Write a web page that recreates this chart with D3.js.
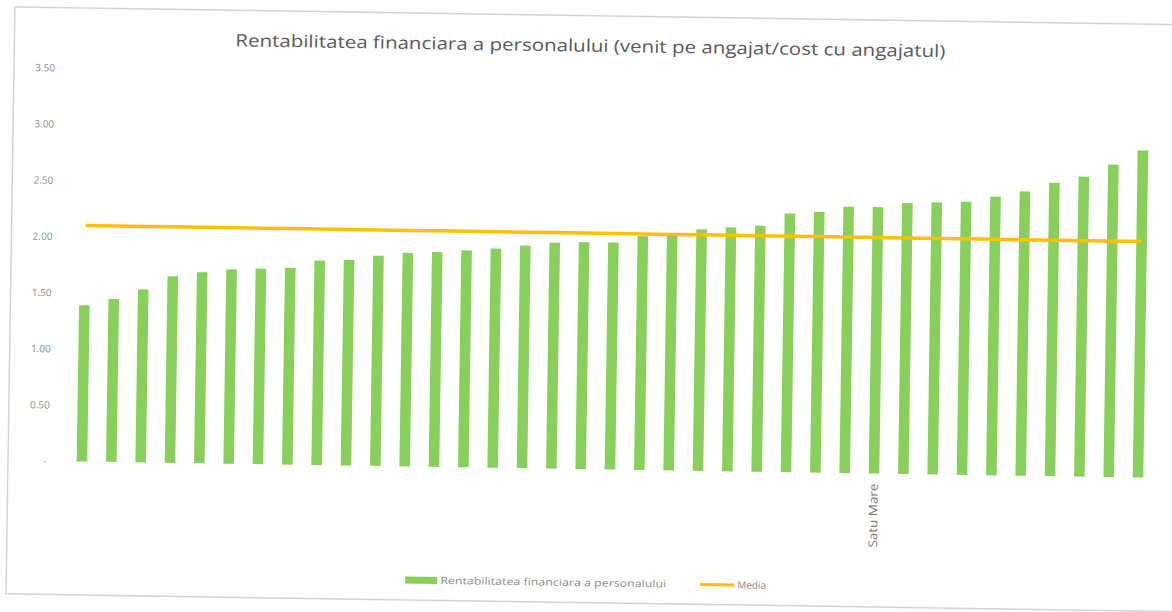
<!DOCTYPE html>
<html>

<head>
    <meta charset="utf-8">
    <title>Rentabilitatea financiara a personalului</title>
    <script src="https://d3js.org/d3.v7.min.js" charset="utf-8"></script>
    <style>
        body { margin: 0; background: #fff; }
        text { font-family: "Open Sans", sans-serif; }
    </style>
</head>

<body>

    <div class="box"></div>

    <script type="text/javascript">
        var title = "Rentabilitatea financiara a personalului (venit pe angajat/cost cu angajatul)";
        var seriesNames = ["Rentabilitatea financiara a personalului", "Media"];
        // only one county is labelled in the picture
        var categories = ["", "", "", "", "", "", "", "", "", "",
            "", "", "", "", "", "", "", "", "", "",
            "", "", "", "", "", "", "", "Satu Mare", "", "",
            "", "", "", "", "", "", ""];
        var values = [1.39, 1.45, 1.54, 1.66, 1.70, 1.73, 1.74, 1.75, 1.82, 1.83,
            1.87, 1.90, 1.91, 1.93, 1.95, 1.98, 2.01, 2.02, 2.02, 2.08,
            2.11, 2.15, 2.17, 2.19, 2.30, 2.32, 2.37, 2.37, 2.41, 2.42,
            2.43, 2.48, 2.53, 2.61, 2.67, 2.78, 2.91];
        var media = 2.10;
        var yTicks = [0, 0.5, 1, 1.5, 2, 2.5, 3, 3.5];
        var yTickLabels = ["-", "0.50", "1.00", "1.50", "2.00", "2.50", "3.00", "3.50"];

        var width = 1172;
        var height = 612;
        var barColor = "#88cf5c";
        var lineColor = "#ffc000";
        var textColor = "#8a8a8a";

        var svg = d3.select("div.box").append("svg")
            .attr("width", width)
            .attr("height", height);
        svg.append("rect")
            .attr("width", width)
            .attr("height", height)
            .attr("fill", "#fff");

        // the scanned page sits a little crooked, so the whole chart is turned
        var chart = svg.append("g")
            .attr("transform", "rotate(0.87, 82, 461.5)");

        chart.append("rect")
            .attr("x", 8)
            .attr("y", 8)
            .attr("width", 1220)
            .attr("height", 587)
            .attr("fill", "none")
            .attr("stroke", "#d4d4d4")
            .attr("stroke-width", 1.5);

        var x = d3.scaleBand()
            .domain(d3.range(values.length))
            .range([67.3, 1152.8])
            .paddingInner(0.64)
            .paddingOuter(0.32);
        var y = d3.scaleLinear()
            .domain([0, 3.5])
            .range([461.5, 68.1]);

        chart.append("text")
            .attr("x", 584)
            .attr("y", 44)
            .attr("text-anchor", "middle")
            .attr("font-size", 17)
            .attr("fill", "#595959")
            .attr("textLength", 710)
            .attr("lengthAdjust", "spacingAndGlyphs")
            .text(title);

        var yAxis = chart.append("g")
            .attr("transform", "translate(49,0)")
            .call(d3.axisLeft(y)
                .tickValues(yTicks)
                .tickFormat(function(d, i) { return yTickLabels[i]; })
                .tickSize(0)
                .tickPadding(0));
        yAxis.select(".domain").remove();
        yAxis.selectAll("text")
            .attr("font-size", 10)
            .attr("font-family", "Open Sans")
            .attr("fill", textColor)
            .attr("dx", function(d) { return d === 0 ? -3 : 0; });

        chart.selectAll("rect.bar")
            .data(values)
            .enter()
            .append("rect")
            .attr("class", "bar")
            .attr("x", function(d, i) { return x(i); })
            .attr("width", x.bandwidth())
            .attr("y", function(d) { return y(d); })
            .attr("height", function(d) { return y(0) - y(d); })
            .attr("fill", barColor);

        var line = d3.line()
            .x(function(d, i) { return x(i) + x.bandwidth() / 2; })
            .y(function() { return y(media); });
        chart.append("path")
            .datum(categories)
            .attr("d", line)
            .attr("fill", "none")
            .attr("stroke", lineColor)
            .attr("stroke-width", 3.5);

        chart.selectAll("text.cat")
            .data(categories)
            .enter()
            .filter(function(d) { return d !== ""; })
            .append("text")
            .attr("class", "cat")
            .attr("transform", function(d) {
                var i = categories.indexOf(d);
                return "translate(" + (x(i) + x.bandwidth() / 2 + 4) + "," + (y(0) + 10) + ") rotate(-90)";
            })
            .attr("text-anchor", "end")
            .attr("font-size", 12)
            .attr("fill", "#7a7a7a")
            .attr("textLength", 64)
            .attr("lengthAdjust", "spacingAndGlyphs")
            .text(function(d) { return d; });

        var legend = chart.append("g")
            .attr("transform", "translate(0,575)");
        legend.append("rect")
            .attr("x", 407)
            .attr("y", -3.5)
            .attr("width", 32)
            .attr("height", 7)
            .attr("fill", barColor);
        legend.append("text")
            .attr("x", 442)
            .attr("y", 0)
            .attr("dy", "0.35em")
            .attr("font-size", 10)
            .attr("fill", textColor)
            .attr("textLength", 226)
            .attr("lengthAdjust", "spacingAndGlyphs")
            .text(seriesNames[0]);
        legend.append("line")
            .attr("x1", 702)
            .attr("x2", 736)
            .attr("y1", 0)
            .attr("y2", 0)
            .attr("stroke", lineColor)
            .attr("stroke-width", 3);
        legend.append("text")
            .attr("x", 739)
            .attr("y", 0)
            .attr("dy", "0.35em")
            .attr("font-size", 10)
            .attr("fill", textColor)
            .text(seriesNames[1]);
    </script>

</body>

</html>
